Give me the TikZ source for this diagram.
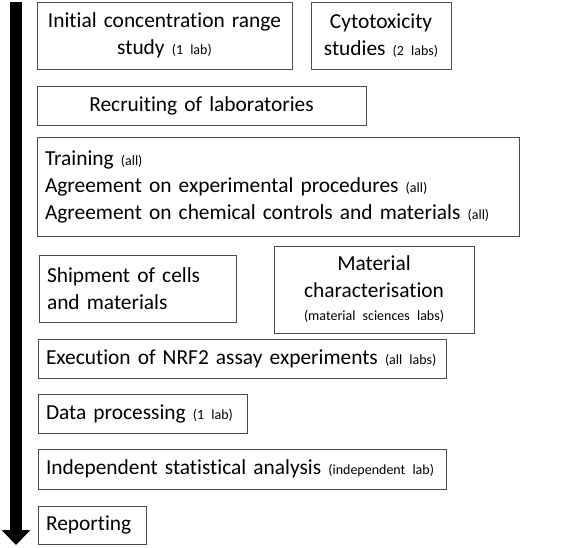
\documentclass[tikz,border=0pt]{standalone}
\usepackage{fontspec}
\setmainfont{Carlito}[Ligatures=NoCommon, WordSpace=0.85]
\usetikzlibrary{positioning,arrows.meta}

\tikzset{
  stage/.style={draw=black!70, line width=0.9pt, inner xsep=8pt, inner ysep=1pt, outer sep=0pt,
    align=left, font=\fontsize{21.4}{27}\selectfont},
}
\newcommand{\who}[1]{{\fontsize{14}{15}\selectfont(#1)}}

\begin{document}
\begin{tikzpicture}[x=1pt,y=-1pt]
			\useasboundingbox (0,0) rectangle (570,548);
			\node (init) [stage, anchor=north west, align=center, text width=239pt, minimum height=67pt] at (37,2)
				{Initial concentration range\\ study \who{1 lab}};
			\node (cyto) [stage, right=19pt of init.north east, anchor=north west, align=center, text width=124pt, minimum height=67pt]
				{Cytotoxicity\\ studies \who{2 labs}};
			\node (recruit) [stage, below=17pt of init.south west, anchor=north west, align=center, text width=313pt, minimum height=39pt]
				{Recruiting of laboratories};
			\node (train) [stage, below=12pt of recruit.south west, anchor=north west, text width=466pt, minimum height=99pt]
				{Training \who{all}\\ Agreement on experimental procedures \who{all}\\ Agreement on chemical controls and materials \who{all}};
			\node (ship) [stage, below right=19pt and 2pt of train.south west, anchor=north west, text width=181pt, minimum height=67pt]
				{Shipment of cells\\ and materials};
			\node (charac) [stage, below right=10pt and 237pt of train.south west, anchor=north west, align=center, text width=184pt, minimum height=87pt]
				{Material\\ characterisation\\[-4pt] \who{material sciences labs}};
			\node (exec) [stage, below left=17pt and 1pt of ship.south west, anchor=north west, text width=392pt, minimum height=39pt]
				{Execution of NRF2 assay experiments \who{all labs}};
			\node (data) [stage, below=16pt of exec.south west, anchor=north west, text width=193pt, minimum height=39pt]
				{Data processing \who{1 lab}};
			\node (stats) [stage, below=16pt of data.south west, anchor=north west, text width=392pt, minimum height=40pt]
				{Independent statistical analysis \who{independent lab}};
			\node (report) [stage, below=17pt of stats.south west, anchor=north west, text width=92pt, minimum height=38pt]
				{Reporting};
			% time runs downwards
			\coordinate (start) at (16,2);
			\coordinate (finish) at (16,545);
			\draw[line width=12pt, -{Triangle[width=28pt,length=15pt]}] (start) -- (finish);
		\end{tikzpicture}
\end{document}
